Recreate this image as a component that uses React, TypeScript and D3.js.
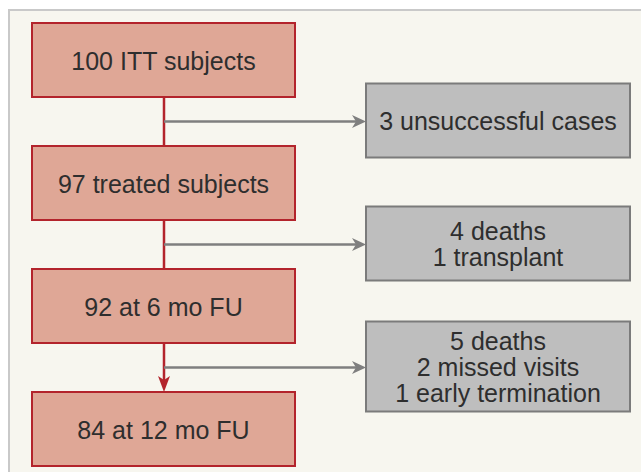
import React from "react";
import * as d3 from "d3";

const mainLabels: string[] = ["100 ITT subjects", "97 treated subjects", "92 at 6 mo FU", "84 at 12 mo FU"];
const sideLabels: string[][] = [
  ["3 unsuccessful cases"],
  ["4 deaths", "1 transplant"],
  ["5 deaths", "2 missed visits", "1 early termination"],
];

const W = 641;
const H = 472;
const FONT = "'Liberation Sans', Arial, sans-serif";
const RED_FILL = "#dfa796";
const RED_STROKE = "#b3242c";
const GRAY_FILL = "#bebebe";
const GRAY_STROKE = "#7b7b7b";
const GRAY_LINE = "#7f7f7f";
const TEXT = "#2e2e2e";

export default function App() {
  const boxH = 74;
  const mainX0 = 32;
  const mainX1 = 295;
  const sideX0 = 366;
  const sideX1 = 630;
  const lineX = 164;
  const lineH = 26;
  const fs = 25;

  const y = d3.scaleLinear().domain([0, mainLabels.length - 1]).range([23, 392]);

  const gapCenter = (i: number) => (y(i) + boxH + y(i + 1)) / 2;

  const lastTop = y(mainLabels.length - 1);
  const redArrow = `M${lineX},${lastTop} L${lineX - 6},${lastTop - 16} L${lineX},${lastTop - 12} L${lineX + 6},${lastTop - 16} Z`;

  return (
    <svg
      width={W}
      height={H}
      style={{ position: "fixed", left: 0, top: 0, background: "#ffffff" }}
      fontFamily={FONT}
    >
      <rect x={0} y={0} width={W} height={H} fill="#ffffff" />
      <rect x={9} y={10} width={W + 20} height={H + 20} fill="#f7f6ef" stroke="#c9c9c9" strokeWidth={2} />

      {/* red vertical connector */}
      <line x1={lineX} x2={lineX} y1={y(0) + boxH} y2={lastTop - 10} stroke={RED_STROKE} strokeWidth={2.5} />
      <path d={redArrow} fill={RED_STROKE} />

      {/* gray side arrows */}
      {sideLabels.map((_, i) => {
        const gy = gapCenter(i);
        return (
          <g key={`arr${i}`}>
            <line x1={lineX} x2={sideX0 - 8} y1={gy} y2={gy} stroke={GRAY_LINE} strokeWidth={2.5} />
            <path
              d={`M${sideX0},${gy} L${sideX0 - 14},${gy - 6.5} L${sideX0 - 10},${gy} L${sideX0 - 14},${gy + 6.5} Z`}
              fill={GRAY_LINE}
            />
          </g>
        );
      })}

      {/* main boxes */}
      {mainLabels.map((label, i) => {
        const top = y(i);
        return (
          <g key={`m${i}`}>
            <rect
              x={mainX0}
              y={top}
              width={mainX1 - mainX0}
              height={boxH}
              fill={RED_FILL}
              stroke={RED_STROKE}
              strokeWidth={2}
            />
            <text
              x={(mainX0 + mainX1) / 2}
              y={top + boxH / 2 + 9.5}
              textAnchor="middle"
              fontSize={fs}
              fill={TEXT}
            >
              {label}
            </text>
          </g>
        );
      })}

      {/* side boxes */}
      {sideLabels.map((lines, i) => {
        const cy = gapCenter(i) - 1;
        const h = Math.max(boxH, lines.length * lineH + 12);
        return (
          <g key={`s${i}`}>
            <rect
              x={sideX0}
              y={cy - h / 2}
              width={sideX1 - sideX0}
              height={h}
              fill={GRAY_FILL}
              stroke={GRAY_STROKE}
              strokeWidth={2}
            />
            {lines.map((ln, j) => (
              <text
                key={j}
                x={(sideX0 + sideX1) / 2}
                y={cy + 9 + (j - (lines.length - 1) / 2) * lineH}
                textAnchor="middle"
                fontSize={fs}
                fill={TEXT}
              >
                {ln}
              </text>
            ))}
          </g>
        );
      })}
    </svg>
  );
}
